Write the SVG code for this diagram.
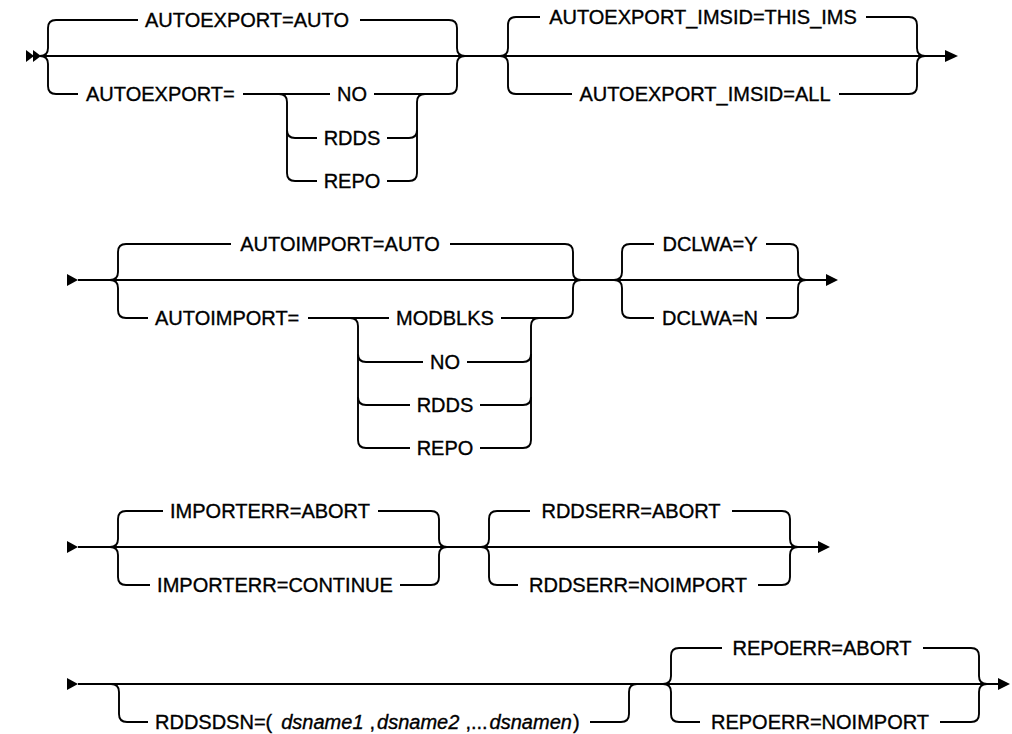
<svg xmlns="http://www.w3.org/2000/svg" width="1012" height="734" viewBox="0 0 1012 734">
<style>
  .ln { fill: none; stroke: #000; stroke-width: 1.9; }
  .ah { fill: #000; stroke: none; }
  text { font-family: "Liberation Sans", Arial, sans-serif; font-size: 20px; fill: #000; stroke: #000; stroke-width: 0.35; }
  .m { text-anchor: middle; }
  .it { font-style: italic; }
</style>
<rect width="1012" height="734" fill="#fff"/>
<g id="connectors">
  <!-- Row 1 -->
  <polygon class="ah" points="26,50 34,56 26,62"/>
  <polygon class="ah" points="33,50 41,56 33,62"/>
  <path class="ln" d="M40,56 H945"/>
  <polygon class="ah" points="945,50 958,56 945,62"/>
  <path class="ln" d="M40,56 Q48,56 48,48 V28 Q48,20 56,20 H138"/>
  <path class="ln" d="M360,20 H449 Q457,20 457,28 V48 Q457,56 465,56"/>
  <path class="ln" d="M40,56 Q48,56 48,64 V86 Q48,94 56,94 H78"/>
  <path class="ln" d="M243,94 H330"/>
  <path class="ln" d="M374,94 H449 Q457,94 457,86 V64 Q457,56 465,56"/>
  <path class="ln" d="M279,94 Q287,94 287,102 V173 Q287,181 295,181 H317"/>
  <path class="ln" d="M287,130 Q287,138 295,138 H317"/>
  <path class="ln" d="M387,138 H409 Q417,138 417,130"/>
  <path class="ln" d="M387,181 H409 Q417,181 417,173 V102 Q417,94 425,94"/>
  <path class="ln" d="M500,56 Q508,56 508,48 V25 Q508,17 516,17 H540"/>
  <path class="ln" d="M866,17 H909 Q917,17 917,25 V48 Q917,56 925,56"/>
  <path class="ln" d="M500,56 Q508,56 508,64 V86 Q508,94 516,94 H572"/>
  <path class="ln" d="M839,94 H909 Q917,94 917,86 V64 Q917,56 925,56"/>
  <!-- Row 2 -->
  <polygon class="ah" points="67,274 78,280 67,286"/>
  <path class="ln" d="M78,280 H826"/>
  <polygon class="ah" points="826,274 838,280 826,286"/>
  <path class="ln" d="M110,280 Q118,280 118,272 V252 Q118,244 126,244 H231"/>
  <path class="ln" d="M450,244 H565 Q573,244 573,252 V272 Q573,280 581,280"/>
  <path class="ln" d="M110,280 Q118,280 118,288 V310 Q118,318 126,318 H148"/>
  <path class="ln" d="M308,318 H389"/>
  <path class="ln" d="M501,318 H565 Q573,318 573,310 V288 Q573,280 581,280"/>
  <path class="ln" d="M350,318 Q358,318 358,326 V440 Q358,448 366,448 H410"/>
  <path class="ln" d="M358,354 Q358,362 366,362 H423"/>
  <path class="ln" d="M467,362 H523 Q531,362 531,354"/>
  <path class="ln" d="M358,397 Q358,405 366,405 H410"/>
  <path class="ln" d="M480,405 H523 Q531,405 531,397"/>
  <path class="ln" d="M480,448 H523 Q531,448 531,440 V326 Q531,318 539,318"/>
  <path class="ln" d="M614,280 Q622,280 622,272 V252 Q622,244 630,244 H654"/>
  <path class="ln" d="M766,244 H790 Q798,244 798,252 V272 Q798,280 806,280"/>
  <path class="ln" d="M614,280 Q622,280 622,288 V310 Q622,318 630,318 H654"/>
  <path class="ln" d="M766,318 H790 Q798,318 798,310 V288 Q798,280 806,280"/>
  <!-- Row 3 -->
  <polygon class="ah" points="67,541 78,547 67,553"/>
  <path class="ln" d="M78,547 H818"/>
  <polygon class="ah" points="818,541 830,547 818,553"/>
  <path class="ln" d="M110,547 Q118,547 118,539 V519 Q118,511 126,511 H163"/>
  <path class="ln" d="M378,511 H431 Q439,511 439,519 V539 Q439,547 447,547"/>
  <path class="ln" d="M110,547 Q118,547 118,555 V577 Q118,585 126,585 H150"/>
  <path class="ln" d="M400,585 H431 Q439,585 439,577 V555 Q439,547 447,547"/>
  <path class="ln" d="M481,547 Q489,547 489,539 V519 Q489,511 497,511 H530"/>
  <path class="ln" d="M732,511 H782 Q790,511 790,519 V539 Q790,547 798,547"/>
  <path class="ln" d="M481,547 Q489,547 489,555 V577 Q489,585 497,585 H518"/>
  <path class="ln" d="M758,585 H782 Q790,585 790,577 V555 Q790,547 798,547"/>
  <!-- Row 4 -->
  <polygon class="ah" points="67,678 78,684 67,690"/>
  <path class="ln" d="M78,684 H998"/>
  <polygon class="ah" points="998,678 1010,684 998,690"/>
  <path class="ln" d="M111,684 Q119,684 119,692 V714 Q119,722 127,722 H148"/>
  <path class="ln" d="M590,722 H621 Q629,722 629,714 V692 Q629,684 637,684"/>
  <path class="ln" d="M663,684 Q671,684 671,676 V656 Q671,648 679,648 H722"/>
  <path class="ln" d="M923,648 H971 Q979,648 979,656 V676 Q979,684 987,684"/>
  <path class="ln" d="M663,684 Q671,684 671,692 V714 Q671,722 679,722 H700"/>
  <path class="ln" d="M940,722 H971 Q979,722 979,714 V692 Q979,684 987,684"/>
</g>
<g id="autoexport-auto"><text x="145" y="27">AUTOEXPORT=AUTO</text></g>
<g id="autoexport"><text x="86" y="101">AUTOEXPORT=</text></g>
<g id="autoexport-no"><text class="m" x="352" y="101">NO</text></g>
<g id="autoexport-rdds"><text class="m" x="352" y="145">RDDS</text></g>
<g id="autoexport-repo"><text class="m" x="352" y="188">REPO</text></g>
<g id="imsid-this"><text class="m" x="703" y="24">AUTOEXPORT_IMSID=THIS_IMS</text></g>
<g id="imsid-all"><text class="m" x="705" y="101">AUTOEXPORT_IMSID=ALL</text></g>
<g id="autoimport-auto"><text class="m" x="340" y="251">AUTOIMPORT=AUTO</text></g>
<g id="autoimport"><text x="155" y="325">AUTOIMPORT=</text></g>
<g id="autoimport-modblks"><text class="m" x="445" y="325">MODBLKS</text></g>
<g id="autoimport-no"><text class="m" x="445" y="369">NO</text></g>
<g id="autoimport-rdds"><text class="m" x="445" y="412">RDDS</text></g>
<g id="autoimport-repo"><text class="m" x="445" y="455">REPO</text></g>
<g id="dclwa-y"><text class="m" x="710" y="251">DCLWA=Y</text></g>
<g id="dclwa-n"><text class="m" x="710" y="325">DCLWA=N</text></g>
<g id="importerr-abort"><text class="m" x="270" y="518">IMPORTERR=ABORT</text></g>
<g id="importerr-continue"><text class="m" x="275" y="592">IMPORTERR=CONTINUE</text></g>
<g id="rddserr-abort"><text class="m" x="631" y="518">RDDSERR=ABORT</text></g>
<g id="rddserr-noimport"><text class="m" x="638" y="592">RDDSERR=NOIMPORT</text></g>
<g id="rddsdsn"><text x="155" y="729">RDDSDSN=(<tspan class="it" dx="9">dsname1</tspan><tspan dx="6">,</tspan><tspan class="it" dx="2">dsname2</tspan><tspan dx="6">,...</tspan><tspan class="it" dx="2">dsnamen</tspan><tspan dx="1">)</tspan></text></g>
<g id="repoerr-abort"><text class="m" x="822" y="655">REPOERR=ABORT</text></g>
<g id="repoerr-noimport"><text class="m" x="820" y="729">REPOERR=NOIMPORT</text></g>
</svg>
